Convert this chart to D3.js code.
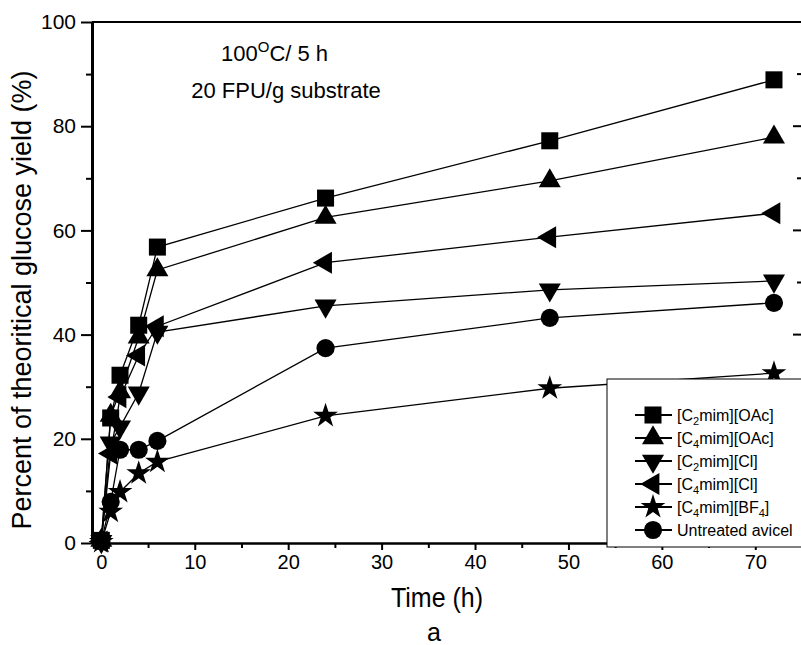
<!DOCTYPE html>
<html>
<head>
<meta charset="utf-8">
<script src="https://cdn.jsdelivr.net/npm/d3@7"></script>
<style>
  body { margin: 0; background: #fff; }
  text { font-family: "Liberation Sans", Arial, sans-serif; fill: #000; }
</style>
</head>
<body>
<script>
// time points (h)
const times = [0, 1, 2, 4, 6, 24, 48, 72];

// yields (% of theoretical glucose) for each pretreatment
const c2mimOAc = [0.5, 24.0, 32.2, 41.8, 56.8, 66.2, 77.2, 88.9];
const c4mimOAc = [0.5, 24.5, 29.0, 39.5, 52.4, 62.5, 69.5, 77.9];
const c2mimCl  = [0.3, 19.2, 22.3, 28.8, 40.5, 45.5, 48.6, 50.3];
const c4mimCl  = [0.3, 17.2, 28.0, 36.0, 41.6, 53.8, 58.7, 63.3];
const c4mimBF4 = [0.2, 6.0, 9.8, 13.4, 15.6, 24.4, 29.7, 32.6];
const untreated = [0.3, 7.9, 17.9, 17.9, 19.6, 37.4, 43.2, 46.1];

// legend labels: even parts normal, odd parts subscript
const legendNames = [
  ["[C", "2", "mim][OAc]"],
  ["[C", "4", "mim][OAc]"],
  ["[C", "2", "mim][Cl]"],
  ["[C", "4", "mim][Cl]"],
  ["[C", "4", "mim][BF", "4", "]"],
  ["Untreated avicel"]
];

const xTicks = [0, 10, 20, 30, 40, 50, 60, 70];
const xMinor = [5, 15, 25, 35, 45, 55, 65, 75];
const yTicks = [0, 20, 40, 60, 80, 100];
const yMinor = [10, 30, 50, 70, 90];

const series = [
  { vals: c2mimOAc, sym: d3.symbolSquare, size: 290, rot: 0 },
  { vals: c4mimOAc, sym: d3.symbolTriangle, size: 210, rot: 0 },
  { vals: c2mimCl, sym: d3.symbolTriangle, size: 210, rot: 180 },
  { vals: c4mimCl, sym: d3.symbolTriangle, size: 210, rot: -90 },
  { vals: c4mimBF4, sym: d3.symbolStar, size: 190, rot: 0 },
  { vals: untreated, sym: d3.symbolCircle, size: 260, rot: 0 }
];

const svg = d3.select("body").append("svg")
  .attr("width", 801)
  .attr("height", 645);

const x = d3.scaleLinear().domain([-1, 75]).range([92, 802]);
const y = d3.scaleLinear().domain([0, 100]).range([543, 22]);

// lines
const line = d3.line()
  .x((d, i) => x(times[i]))
  .y(d => y(d));

series.forEach(s => {
  svg.append("path")
    .attr("d", line(s.vals))
    .attr("fill", "none")
    .attr("stroke", "#000")
    .attr("stroke-width", 1.3);
});

// markers
series.forEach(s => {
  svg.selectAll()
    .data(s.vals)
    .enter()
    .append("path")
    .attr("d", d3.symbol().type(s.sym).size(s.size))
    .attr("transform", (d, i) => `translate(${x(times[i])},${y(d)}) rotate(${s.rot})`)
    .attr("fill", "#000");
});

// frame: top line and right axis with inward ticks
svg.append("line")
  .attr("x1", 92).attr("x2", 802)
  .attr("y1", y(100)).attr("y2", y(100))
  .attr("stroke", "#000").attr("stroke-width", 2);
svg.append("line")
  .attr("x1", 802).attr("x2", 802)
  .attr("y1", y(100)).attr("y2", y(0))
  .attr("stroke", "#000").attr("stroke-width", 2);
yTicks.concat(yMinor).forEach(v => {
  const major = yTicks.includes(v);
  svg.append("line")
    .attr("x1", major ? 793 : 797).attr("x2", 802)
    .attr("y1", y(v)).attr("y2", y(v))
    .attr("stroke", "#000").attr("stroke-width", 2);
});

// bottom axis
const xAxis = svg.append("g")
  .attr("transform", `translate(0,${y(0)})`)
  .call(d3.axisBottom(x).tickValues(xTicks).tickSize(7).tickSizeOuter(0).tickPadding(5));
xAxis.append("g")
  .call(d3.axisBottom(x).tickValues(xMinor).tickSize(5).tickFormat(""))
  .select(".domain").remove();
xAxis.selectAll("text")
  .attr("font-size", "20px")
  .attr("font-family", "Liberation Sans, Arial, sans-serif")
  .attr("fill", "#000");
xAxis.selectAll("line").attr("stroke-width", 2);
xAxis.select(".domain").attr("stroke-width", 2.5);

// left axis
const yAxis = svg.append("g")
  .attr("transform", `translate(${x(-1)},0)`)
  .call(d3.axisLeft(y).tickValues(yTicks).tickSize(11).tickSizeOuter(0).tickPadding(5));
yAxis.append("g")
  .call(d3.axisLeft(y).tickValues(yMinor).tickSize(6).tickFormat(""))
  .select(".domain").remove();
yAxis.selectAll("text")
  .attr("font-size", "21px")
  .attr("font-family", "Liberation Sans, Arial, sans-serif")
  .attr("fill", "#000");
yAxis.selectAll("line").attr("stroke-width", 2);
yAxis.select(".domain").attr("stroke-width", 3);

// axis titles
svg.append("text")
  .attr("x", 437)
  .attr("y", 607)
  .attr("text-anchor", "middle")
  .attr("font-size", "27px")
  .attr("textLength", 92)
  .attr("lengthAdjust", "spacingAndGlyphs")
  .text("Time (h)");

svg.append("text")
  .attr("x", 434)
  .attr("y", 641)
  .attr("text-anchor", "middle")
  .attr("font-size", "25px")
  .text("a");

svg.append("text")
  .attr("transform", "translate(31,300) rotate(-90)")
  .attr("text-anchor", "middle")
  .attr("font-size", "27px")
  .text("Percent of theoritical glucose yield (%)");

// condition note
const note1 = svg.append("text")
  .attr("x", 221)
  .attr("y", 61)
  .attr("font-size", "22px");
note1.append("tspan").text("100");
note1.append("tspan").attr("font-size", "15px").attr("dy", -9).text("O");
note1.append("tspan").attr("dy", 9).text("C/ 5 h");

svg.append("text")
  .attr("x", 286)
  .attr("y", 98)
  .attr("text-anchor", "middle")
  .attr("font-size", "22px")
  .text("20 FPU/g substrate");

// legend
const legend = svg.append("g");
legend.append("rect")
  .attr("x", 607)
  .attr("y", 379)
  .attr("width", 210)
  .attr("height", 168)
  .attr("fill", "#fff")
  .attr("stroke", "#000")
  .attr("stroke-width", 1);

series.forEach((s, i) => {
  const cy = 415 + i * 23;
  legend.append("line")
    .attr("x1", 635).attr("x2", 672)
    .attr("y1", cy).attr("y2", cy)
    .attr("stroke", "#000").attr("stroke-width", 2);
  legend.append("path")
    .attr("d", d3.symbol().type(s.sym).size(s.size))
    .attr("transform", `translate(653,${cy}) rotate(${s.rot})`)
    .attr("fill", "#000");
  const t = legend.append("text")
    .attr("x", 677)
    .attr("y", cy + 6)
    .attr("font-size", "16px");
  legendNames[i].forEach((p, k) => {
    if (k % 2 === 1) {
      t.append("tspan").attr("font-size", "11px").attr("dy", 4).text(p);
    } else {
      t.append("tspan").attr("dy", k > 0 ? -4 : 0).text(p);
    }
  });
});
</script>
</body>
</html>
